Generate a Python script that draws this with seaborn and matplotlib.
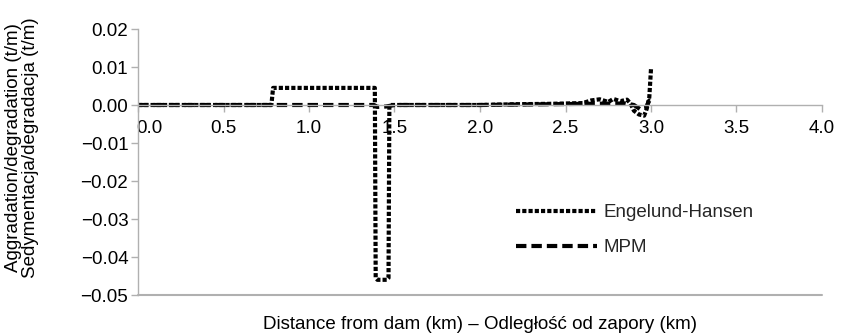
import numpy as np
import pandas as pd
import matplotlib
matplotlib.use("Agg")
import matplotlib.pyplot as plt
import matplotlib.transforms as mtransforms
import seaborn as sns
from matplotlib.ticker import FuncFormatter
from matplotlib.lines import Line2D

# ---- data ----
eh_x = [0.00, 0.40, 0.78, 0.79, 1.10, 1.385, 1.39, 1.40, 1.455, 1.465, 1.47,
        1.80, 2.00, 2.20, 2.40, 2.60, 2.65, 2.70, 2.75, 2.78, 2.82, 2.86,
        2.88, 2.90, 2.93, 2.96, 2.975, 2.99, 3.00]
eh_y = [0.0, 0.0, 0.0, 0.0045, 0.0045, 0.0045, -0.0455, -0.046, -0.046, -0.0455, 0.0,
        0.0, 0.0, 0.0002, 0.0003, 0.0005, 0.0012, 0.0015, 0.0008, 0.0016, 0.0010, 0.0014,
        0.0004, -0.0015, -0.0025, -0.0028, -0.0010, 0.0020, 0.0095]

mpm_x = [0.00, 0.50, 1.00, 1.38, 1.40, 1.45, 1.50, 2.00, 2.20, 2.60,
         2.85, 2.90, 2.94, 2.97, 2.99, 3.00]
mpm_y = [0.0, 0.0, 0.0, 0.0, -0.0005, -0.0004, 0.0, 0.0, 0.0001, 0.0003,
         0.0004, 0.0, -0.0012, -0.0008, 0.0012, 0.0010]

series_names = ["Engelund-Hansen", "MPM"]
x_ticks = [0.0, 0.5, 1.0, 1.5, 2.0, 2.5, 3.0, 3.5, 4.0]
y_ticks = [0.02, 0.01, 0.00, -0.01, -0.02, -0.03, -0.04, -0.05]

df = pd.concat([
    pd.DataFrame({"x": eh_x, "y": eh_y, "series": series_names[0]}),
    pd.DataFrame({"x": mpm_x, "y": mpm_y, "series": series_names[1]}),
], ignore_index=True)

sns.set_theme(style="white")
plt.rcParams["font.family"] = ["Liberation Sans", "DejaVu Sans"]
FS = 13.5
GRAY = "#b0b0b0"

fig = plt.figure(figsize=(8.41, 3.33), dpi=100)
ax = fig.add_axes([138/841, 1-295/333, (822-138)/841, (295-29)/333])

dash_map = {series_names[0]: (1, 0.5), series_names[1]: (2.5, 1.2)}
sns.lineplot(data=df, x="x", y="y", style="series", dashes=dash_map,
             color="black", linewidth=3, estimator=None, sort=False,
             legend=False, ax=ax)

ax.set_xlim(0, 4)
ax.set_ylim(-0.05, 0.02)
ax.set_xticks(x_ticks)
ax.set_yticks(y_ticks)
ax.xaxis.set_major_formatter(FuncFormatter(lambda v, p: f"{v:.1f}"))
ax.yaxis.set_major_formatter(FuncFormatter(lambda v, p: f"{v:.2f}".replace("-", "\u2212")))

for s in ["top", "right"]:
    ax.spines[s].set_visible(False)
ax.spines["bottom"].set_position(("data", 0))
for s in ["left", "bottom"]:
    ax.spines[s].set_color(GRAY)
    ax.spines[s].set_linewidth(1.0)
ax.axhline(-0.05, color=GRAY, linewidth=1.5, zorder=0, clip_on=False)

ax.tick_params(axis="x", direction="out", length=5, width=1, color=GRAY,
               pad=6, labelsize=FS, labelcolor="black", bottom=True)
ax.tick_params(axis="y", direction="out", length=5, width=1, color=GRAY,
               pad=2, labelsize=FS, labelcolor="black", left=True)

# first x label sits just right of the vertical axis
fig.canvas.draw()
first = ax.get_xticklabels()[0]
first.set_transform(first.get_transform() +
                    mtransforms.ScaledTranslation(11/100, 0, fig.dpi_scale_trans))

ax.set_xlabel("Distance from dam (km) \u2013 Odległość od zapory (km)",
              fontsize=FS, color="black")
ax.xaxis.set_label_coords(0.5, -0.078)
ax.set_ylabel("Aggradation/degradation (t/m)\nSedymentacja/degradacja (t/m)",
              fontsize=FS, color="black", linespacing=0.95)
ax.yaxis.set_label_coords(-0.145, 0.553)

handles = [
    Line2D([], [], color="black", linewidth=3, linestyle=(0, dash_map[series_names[0]])),
    Line2D([], [], color="black", linewidth=3, linestyle=(0, dash_map[series_names[1]])),
]
fig.legend(handles, series_names, loc="upper left",
           bbox_to_anchor=(516/841, 1-204/333), frameon=False, fontsize=FS,
           handlelength=4.3, handletextpad=0.35, labelspacing=0.95,
           borderpad=0, borderaxespad=0)

fig.savefig("out.png", dpi=100)
